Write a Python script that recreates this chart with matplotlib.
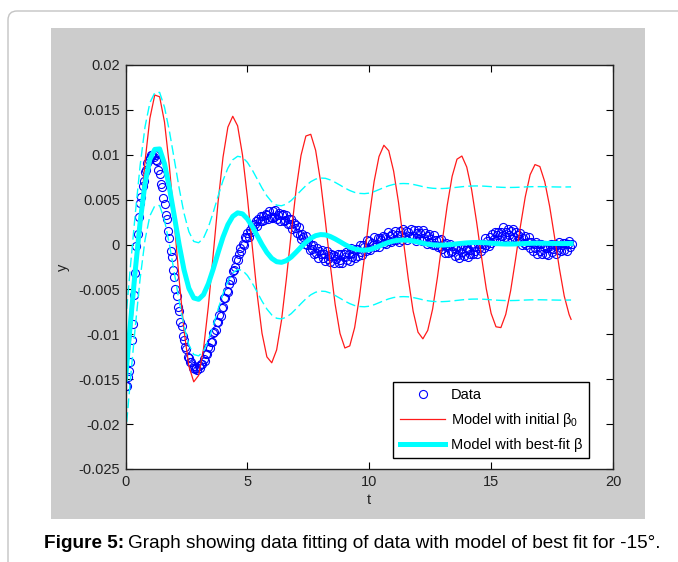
import numpy as np
import matplotlib.pyplot as plt
from matplotlib.patches import Rectangle, FancyBboxPatch
from matplotlib.transforms import IdentityTransform

plt.rcParams['font.family'] = ['Liberation Sans', 'DejaVu Sans']
plt.rcParams['mathtext.fontset'] = 'custom'
plt.rcParams['mathtext.rm'] = 'Liberation Sans'
plt.rcParams['mathtext.it'] = 'Liberation Sans'

W, H = 678, 562

# measured data, one sample every 0.05 s, in units of 1e-4
DT_DATA = 0.05
y_data = np.array([
    -157, -158, -148, -141, -131, -106, -89, -56, -32, -2, 12, 31, 46, 53, 65, 71, 81, 83, 91, 94,
    96, 100, 100, 98, 100, 94, 93, 83, 79, 68, 64, 52, 45, 33, 28, 15, 7, -7, -14, -28,
    -36, -49, -57, -69, -74, -86, -91, -102, -106, -114, -116, -125, -126, -131, -131, -137, -135, -139, -137, -140,
    -135, -138, -133, -133, -128, -130, -122, -122, -114, -115, -108, -108, -99, -97, -95, -86, -86, -79, -80, -71,
    -70, -60, -60, -52, -53, -44, -39, -39, -29, -28, -25, -16, -17, -10, -4, -7, 1, 0, 8, 7,
    13, 8, 16, 14, 22, 17, 23, 26, 21, 28, 26, 32, 26, 32, 27, 34, 33, 29, 37, 31,
    30, 37, 31, 38, 29, 33, 35, 26, 33, 34, 26, 27, 33, 23, 28, 23, 28, 17, 24, 18,
    22, 13, 19, 11, 6, 12, 8, 1, 10, -1, 4, -6, 0, -5, 0, -10, -9, -4, -15, -7,
    -10, -6, -15, -10, -18, -7, -16, -13, -19, -10, -12, -21, -13, -16, -10, -20, -17, -11, -21, -11,
    -14, -8, -17, -10, -18, -4, -14, -9, -15, -5, -5, -13, -1, -8, -12, -1, -3, -7, 5, -5,
    4, -6, 2, 0, 8, -3, 1, 7, -3, 7, 5, 10, 2, 8, 1, 14, 4, 9, 3, 12,
    5, 15, 5, 11, 3, 15, 11, 5, 17, 8, 15, 5, 14, 10, 17, 7, 9, 16, 4, 13,
    16, 6, 13, 4, 16, 7, 13, 1, 10, 12, 2, 6, -1, 11, 0, 5, -3, 5, -2, 6,
    -5, 1, -9, 2, -3, -9, 1, -8, -7, -2, -13, -5, -2, -12, -15, -5, -8, -2, -13, -6,
    -4, -14, -6, -10, -1, -11, -3, -7, -11, 1, -4, 1, -7, 1, -4, 7, -1, 4, -2, 8,
    2, 12, 6, 14, 4, 11, 14, 5, 14, 9, 19, 8, 14, 5, 17, 11, 15, 6, 17, 8,
    14, 4, 11, 6, 13, 0, 7, 2, 9, -1, 3, 8, -4, 3, -7, 1, -4, 3, -10, 1,
    -7, 1, -10, -3, -1, -10, -4, -12, -2, 1, -8, -5, 1, -10, -1, -6, 3, -7, -1, 2,
    -6, 2, -7, 1, 4, -3, 1,
]) * 1e-4
t_data = np.arange(len(y_data)) * DT_DATA

# model curves, sampled every 0.2 s
t_model = np.append(np.arange(0, 18.2001, 0.2), 18.28)
y_initial = np.array([
    -0.01562, -0.01077, -0.00426, 0.00275, 0.00922, 0.01406, 0.01666, 0.01646, 0.01365, 0.00874,
    0.00256, -0.00387, -0.00956, -0.01354, -0.01529, -0.01458, -0.01164, -0.00686, -0.00105, 0.00479,
    0.00972, 0.01308, 0.01429, 0.01322, 0.00997, 0.00527, -0.00019, -0.00551, -0.00988, -0.01251,
    -0.01317, -0.01174, -0.00844, -0.00383, 0.00129, 0.00613, 0.00993, 0.01209, 0.01228, 0.01050,
    0.00709, 0.00258, -0.00224, -0.00664, -0.00990, -0.01152, -0.01129, -0.00926, -0.00579, -0.00147,
    0.00306, 0.00703, 0.00980, 0.01106, 0.01045, 0.00818, 0.00470, 0.00045, -0.00379, -0.00742,
    -0.00976, -0.01050, -0.00956, -0.00718, -0.00361, 0.00046, 0.00438, 0.00760, 0.00951, 0.00986,
    0.00863, 0.00611, 0.00259, -0.00127, -0.00491, -0.00767, -0.00916, -0.00925, -0.00778, -0.00515,
    -0.00167, 0.00201, 0.00531, 0.00778, 0.00891, 0.00869, 0.00700, 0.00427, 0.00087, -0.00266,
    -0.00574, -0.00780, -0.00833,
])
y_best = np.array([
    -0.01500, -0.00880, -0.00290, 0.00250, 0.00680, 0.00950, 0.01060, 0.01065, 0.00900, 0.00635,
    0.00321, 0.00000, -0.00281, -0.00487, -0.00595, -0.00610, -0.00558, -0.00436, -0.00271, -0.00089,
    0.00083, 0.00221, 0.00314, 0.00353, 0.00342, 0.00286, 0.00201, 0.00101, 0.00000, -0.00088,
    -0.00154, -0.00191, -0.00198, -0.00179, -0.00139, -0.00085, -0.00028, 0.00026, 0.00070, 0.00099,
    0.00111, 0.00108, 0.00090, 0.00063, 0.00032, 0.00000, -0.00028, -0.00049, -0.00060, -0.00063,
    -0.00057, -0.00040, -0.00018, 0.00005, 0.00025, 0.00040, 0.00048, 0.00050, 0.00048, 0.00040,
    0.00028, 0.00015, 0.00004, -0.00003, -0.00006, -0.00006, -0.00003, 0.00002, 0.00008, 0.00014,
    0.00019, 0.00022, 0.00023, 0.00022, 0.00019, 0.00015, 0.00011, 0.00008, 0.00006, 0.00006,
    0.00007, 0.00009, 0.00012, 0.00014, 0.00015, 0.00015, 0.00014, 0.00013, 0.00012, 0.00011,
    0.00011, 0.00012, 0.00012,
])
CI_HALF = 0.0063  # half width of the dashed prediction band

x_ticks = [0, 5, 10, 15, 20]
y_ticks = [-0.025, -0.02, -0.015, -0.01, -0.005, 0, 0.005, 0.01, 0.015, 0.02]
y_tick_labels = ['-0.025', '-0.02', '-0.015', '-0.01', '-0.005', '0', '0.005', '0.01', '0.015', '0.02']

fig = plt.figure(figsize=(W / 100, H / 100), dpi=100)
fig.patch.set_facecolor('white')

# page frame and grey matlab figure area
fig.add_artist(FancyBboxPatch((8, -40), 720, H - 11 + 40, boxstyle='round,pad=0,rounding_size=9',
                              transform=IdentityTransform(), facecolor='none',
                              edgecolor='#c4c4c4', linewidth=1.0, zorder=-2))
fig.add_artist(Rectangle((51 / W, (H - 519) / H), (645 - 51) / W, (519 - 28) / H,
                         transform=fig.transFigure, facecolor='#cccccc', edgecolor='none', zorder=-1))

ax = fig.add_axes([125.5 / W, (H - 469) / H, (613 - 125.5) / W, (469 - 65) / H])
ax.set_facecolor('white')

ax.plot(t_data, y_data, 'o', mfc='none', mec='#0000ff', ms=5.8, mew=0.8, label='Data')
ax.plot(t_model, y_initial, '-', color='#ff1a1a', lw=0.9, label=r'Model with initial $\beta_0$')
ax.plot(t_model, y_best, '-', color='#00ffff', lw=3.6, label='Model with best-fit β')
ax.plot(t_model, y_best + CI_HALF, '--', color='#00ffff', lw=1.0, dashes=(7, 3))
ax.plot(t_model, y_best - CI_HALF, '--', color='#00ffff', lw=1.0, dashes=(7, 3))

ax.set_xlim(0, 20)
ax.set_ylim(-0.025, 0.02)
ax.set_xticks(x_ticks)
ax.set_xticklabels([str(v) for v in x_ticks])
ax.set_yticks(y_ticks)
ax.set_yticklabels(y_tick_labels)
ax.tick_params(direction='in', top=True, right=True, length=5, width=0.8,
               labelsize=10.5, labelcolor='#222222', pad=4)
for s in ax.spines.values():
    s.set_linewidth(1.0)
    s.set_color('#222222')
ax.set_xlabel('t', fontsize=10.5, color='#222222', labelpad=3)
ax.set_ylabel('y', fontsize=10.5, color='#222222', labelpad=6)

leg = ax.legend(loc='lower right', bbox_to_anchor=(0.951, 0.0265), borderaxespad=0,
                fontsize=10.5, numpoints=1, handlelength=3.1, handletextpad=0.4,
                labelspacing=0.6, borderpad=0.45, fancybox=False, framealpha=1)
leg.get_frame().set_edgecolor('#000000')
leg.get_frame().set_linewidth(1.0)

# caption: bold lead-in followed by plain text
cap1 = fig.text(44 / W, 19 / H, 'Figure 5:', fontsize=13.7, fontweight='bold', va='center')
fig.canvas.draw()
bb = cap1.get_window_extent()
fig.text((bb.x1 + 4) / W, 19 / H,
         'Graph showing data fitting of data with model of best fit for -15°.',
         fontsize=13.7, va='center')

fig.savefig('out.png', dpi=100)
